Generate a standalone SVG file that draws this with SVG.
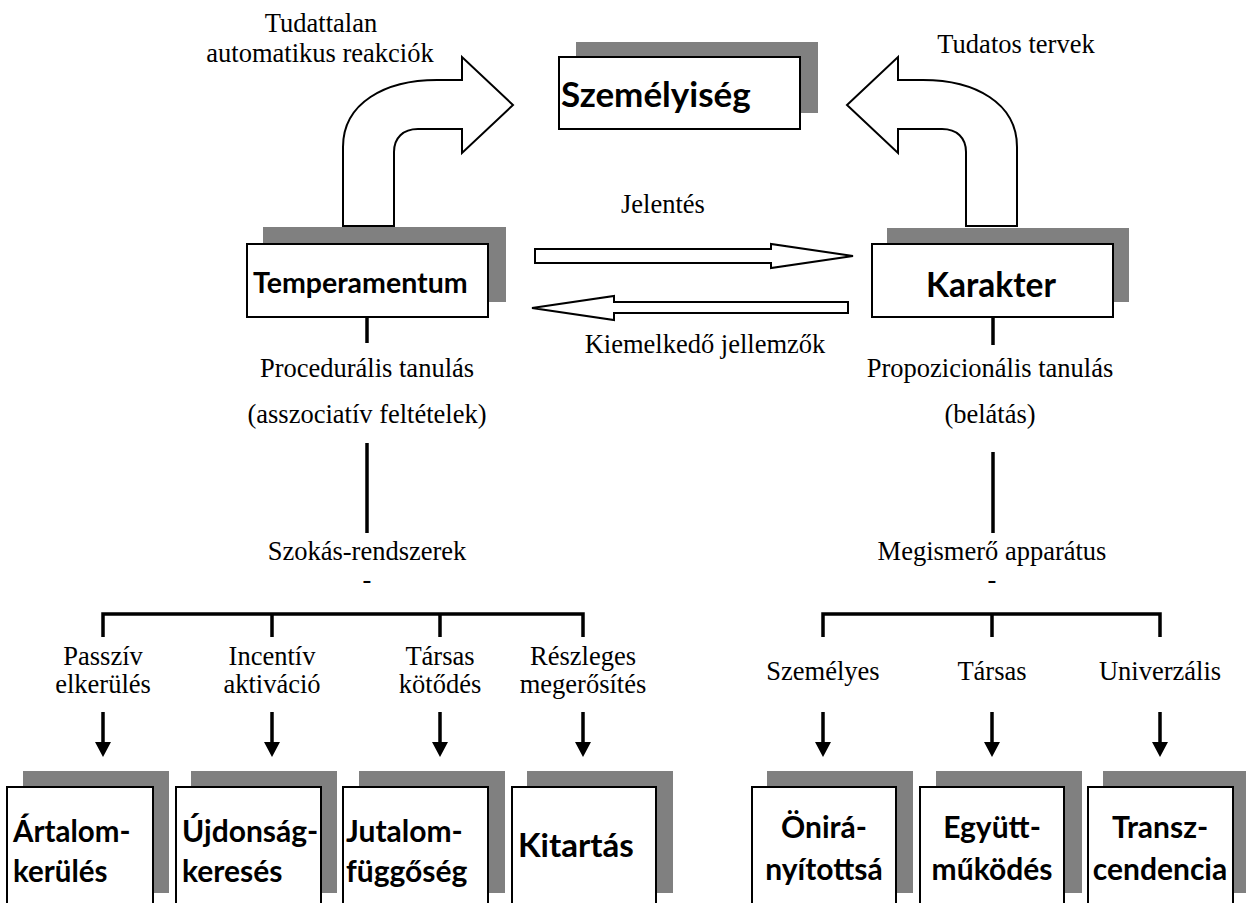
<svg xmlns="http://www.w3.org/2000/svg" width="1246" height="903" viewBox="0 0 1246 903">
<style>
.shadow{fill:#808080;stroke:none}
.box{fill:#fff;stroke:#000;stroke-width:2}
.serif{font-family:"Liberation Serif","Times New Roman",serif;font-size:26.5px;fill:#000}
.bold{font-family:Lato,"Noto Sans",sans-serif;font-weight:bold;fill:#000}
.ln{stroke:#000;stroke-width:3.5;fill:none}
.bl{fill:#fff;stroke:#000;stroke-width:2}
</style>
<rect width="1246" height="903" fill="#fff"/>

<g id="connectors">
  <path class="bl" d="M343,226 L343,147 C343,103 385,80 437,80 L462,80 L462,57 L513,105 L462,153 L462,129 L418,129 C403,129 394,138 394,152 L394,226 Z"/>
  <path class="bl" d="M1017,226 L1017,147 C1017,103 975,80 923,80 L898,80 L898,57 L847,105 L898,153 L898,129 L942,129 C957,129 966,138 966,152 L966,226 Z"/>
  <path class="bl" d="M535,249 L771,249 L771,244 L853,256 L771,268 L771,263 L535,263 Z"/>
  <path class="bl" d="M848,302 L614,302 L614,296 L532,308 L614,320 L614,313 L848,313 Z"/>
  <line class="ln" x1="367" y1="318" x2="367" y2="343"/>
  <line class="ln" x1="993" y1="318" x2="993" y2="345"/>
  <line class="ln" x1="367" y1="443" x2="367" y2="533"/>
  <line class="ln" x1="993" y1="452" x2="993" y2="533"/>
  <path class="ln" d="M103,637 L103,614 L583,614 L583,637 M272,614 L272,637 M440,614 L440,637"/>
  <path class="ln" d="M823,637 L823,614 L1160,614 L1160,637 M992,614 L992,637"/>
  <g stroke="#000" stroke-width="3.5">
    <line x1="103" y1="712" x2="103" y2="744"/>
    <line x1="272" y1="712" x2="272" y2="744"/>
    <line x1="440" y1="712" x2="440" y2="744"/>
    <line x1="583" y1="712" x2="583" y2="744"/>
    <line x1="823" y1="712" x2="823" y2="744"/>
    <line x1="992" y1="712" x2="992" y2="744"/>
    <line x1="1160" y1="712" x2="1160" y2="744"/>
  </g>
  <g fill="#000">
    <path d="M95,742 L111,742 L103,757 Z"/>
    <path d="M264,742 L280,742 L272,757 Z"/>
    <path d="M432,742 L448,742 L440,757 Z"/>
    <path d="M575,742 L591,742 L583,757 Z"/>
    <path d="M815,742 L831,742 L823,757 Z"/>
    <path d="M984,742 L1000,742 L992,757 Z"/>
    <path d="M1152,742 L1168,742 L1160,757 Z"/>
  </g>
</g>

<g id="labels">
  <text class="serif" x="321" y="32" text-anchor="middle">Tudattalan</text>
  <text class="serif" x="320" y="62" text-anchor="middle">automatikus reakciók</text>
  <text class="serif" x="1016" y="53" text-anchor="middle">Tudatos tervek</text>
  <text class="serif" x="663" y="213" text-anchor="middle">Jelentés</text>
  <text class="serif" x="705" y="353" text-anchor="middle">Kiemelkedő jellemzők</text>
  <text class="serif" x="367" y="377" text-anchor="middle">Procedurális tanulás</text>
  <text class="serif" x="367" y="423" text-anchor="middle">(asszociatív feltételek)</text>
  <text class="serif" x="990" y="377" text-anchor="middle">Propozicionális tanulás</text>
  <text class="serif" x="990" y="423" text-anchor="middle">(belátás)</text>
  <text class="serif" x="367" y="560" text-anchor="middle">Szokás-rendszerek</text>
  <text class="serif" x="367" y="588" text-anchor="middle" font-size="14">-</text>
  <text class="serif" x="992" y="560" text-anchor="middle">Megismerő apparátus</text>
  <text class="serif" x="992" y="588" text-anchor="middle" font-size="14">-</text>
  <text class="serif" x="103" y="665" text-anchor="middle">Passzív</text>
  <text class="serif" x="103" y="693" text-anchor="middle">elkerülés</text>
  <text class="serif" x="272" y="665" text-anchor="middle">Incentív</text>
  <text class="serif" x="272" y="693" text-anchor="middle">aktiváció</text>
  <text class="serif" x="440" y="665" text-anchor="middle">Társas</text>
  <text class="serif" x="440" y="693" text-anchor="middle">kötődés</text>
  <text class="serif" x="583" y="665" text-anchor="middle">Részleges</text>
  <text class="serif" x="583" y="693" text-anchor="middle">megerősítés</text>
  <text class="serif" x="823" y="680" text-anchor="middle">Személyes</text>
  <text class="serif" x="992" y="680" text-anchor="middle">Társas</text>
  <text class="serif" x="1160" y="680" text-anchor="middle">Univerzális</text>
</g>

<g id="node-szemelyiseg">
  <rect class="shadow" x="576" y="42" width="242" height="71"/>
  <rect class="box" x="559" y="57" width="241" height="72"/>
  <text class="bold" x="561" y="107" font-size="35">Személyiség</text>
</g>
<g id="node-temperamentum">
  <rect class="shadow" x="263" y="227" width="243" height="75"/>
  <rect class="box" x="247" y="244" width="241" height="73"/>
  <text class="bold" x="253" y="293" font-size="28.5">Temperamentum</text>
</g>
<g id="node-karakter">
  <rect class="shadow" x="887" y="228" width="242" height="74"/>
  <rect class="box" x="872" y="244" width="241" height="73"/>
  <text class="bold" x="991" y="297" font-size="33.5" text-anchor="middle">Karakter</text>
</g>

<g id="node-artalomkerules">
  <rect class="shadow" x="23" y="771" width="146" height="122"/>
  <rect class="box" x="7" y="787" width="146" height="122"/>
  <text class="bold" x="13" y="842" font-size="29.5">Ártalom-</text>
  <text class="bold" x="13" y="882" font-size="29.5">kerülés</text>
</g>
<g id="node-ujdonsagkereses">
  <rect class="shadow" x="191" y="771" width="146" height="122"/>
  <rect class="box" x="176" y="787" width="145" height="122"/>
  <text class="bold" x="182" y="842" font-size="30">Újdonság-</text>
  <text class="bold" x="182" y="882" font-size="30">keresés</text>
</g>
<g id="node-jutalomfuggoseg">
  <rect class="shadow" x="359" y="771" width="146" height="122"/>
  <rect class="box" x="343" y="787" width="145" height="122"/>
  <text class="bold" x="346" y="842" font-size="30">Jutalom-</text>
  <text class="bold" x="346" y="882" font-size="30">függőség</text>
</g>
<g id="node-kitartas">
  <rect class="shadow" x="527" y="771" width="146" height="122"/>
  <rect class="box" x="512" y="787" width="144" height="122"/>
  <text class="bold" x="518" y="857" font-size="33">Kitartás</text>
</g>
<g id="node-oniranyitottsag">
  <rect class="shadow" x="767" y="771" width="146" height="122"/>
  <rect class="box" x="752" y="787" width="144" height="122"/>
  <text class="bold" x="824" y="838" font-size="30" text-anchor="middle">Önirá-</text>
  <text class="bold" x="824" y="880" font-size="30" text-anchor="middle">nyítottsá</text>
</g>
<g id="node-egyuttmukodes">
  <rect class="shadow" x="936" y="771" width="146" height="122"/>
  <rect class="box" x="920" y="787" width="144" height="122"/>
  <text class="bold" x="992" y="838" font-size="30" text-anchor="middle">Együtt-</text>
  <text class="bold" x="992" y="880" font-size="30" text-anchor="middle">működés</text>
</g>
<g id="node-transzcendencia">
  <rect class="shadow" x="1103" y="771" width="146" height="122"/>
  <rect class="box" x="1088" y="787" width="145" height="122"/>
  <text class="bold" x="1160" y="838" font-size="30" text-anchor="middle">Transz-</text>
  <text class="bold" x="1160" y="880" font-size="30" text-anchor="middle">cendencia</text>
</g>
</svg>
